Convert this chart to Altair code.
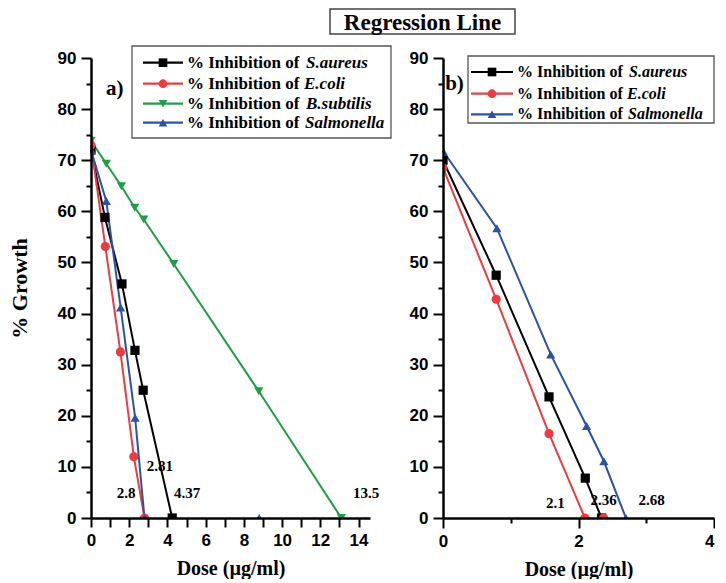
import altair as alt
import pandas as pd

SERIF = "Liberation Serif"
SANS = "Liberation Sans"

# ---------------- data: panel a ----------------
A_SERIES = ["S.aureus", "E.coli", "B.subtilis", "Salmonella"]
a_saureus_x = [0, 0.73, 1.62, 2.3, 2.73, 4.25]
a_saureus_y = [72, 58.8, 45.8, 32.8, 25, 0]
a_ecoli_x = [0, 0.75, 1.54, 2.24, 2.8]
a_ecoli_y = [73, 53.1, 32.5, 12, 0]
a_bsub_x = [0, 0.8, 1.59, 2.29, 2.76, 4.33, 8.78, 13.1]
a_bsub_y = [73.8, 69.3, 64.9, 60.7, 58.4, 49.7, 24.8, 0]
a_salm_x = [0, 0.8, 1.55, 2.31, 2.8]
a_salm_y = [72, 62, 41.2, 19.6, 0]
a_extra_series = ["Salmonella"]
a_extra_x = [8.8]
a_extra_y = [0]
a_note_text = ["2.81", "2.8", "4.37", "13.5"]
a_note_x = [3.6, 1.84, 5.03, 14.4]
a_note_y = [10.1, 4.9, 4.9, 4.9]

# ---------------- data: panel b ----------------
B_SERIES = ["S.aureus", "E.coli", "Salmonella"]
b_saureus_x = [0, 0.785, 1.565, 2.1, 2.34]
b_saureus_y = [70, 47.5, 23.7, 7.8, 0]
b_ecoli_x = [0, 0.785, 1.565, 2.095]
b_ecoli_y = [68.5, 42.8, 16.5, 0]
b_salm_x = [0, 0.795, 1.59, 2.12, 2.375, 2.7]
b_salm_y = [71.8, 56.7, 32, 18, 11.1, 0]
b_extra_series = ["E.coli"]
b_extra_x = [2.37]
b_extra_y = [0]
b_note_text = ["2.1", "2.36", "2.68"]
b_note_x = [1.66, 2.37, 3.08]
b_note_y = [2.9, 3.6, 3.6]

COLORS = {"S.aureus": "#000000", "E.coli": "#f03a3d",
          "B.subtilis": "#1f9e48", "Salmonella": "#2c52a6"}
SHAPES = {"S.aureus": "square", "E.coli": "circle",
          "B.subtilis": "triangle-down", "Salmonella": "triangle-up"}


def frame(pairs):
    rows = []
    for name, xs, ys in pairs:
        for x, y in zip(xs, ys):
            rows.append({"series": name, "x": x, "y": y})
    return pd.DataFrame(rows)


df_a = frame([("S.aureus", a_saureus_x, a_saureus_y),
              ("E.coli", a_ecoli_x, a_ecoli_y),
              ("B.subtilis", a_bsub_x, a_bsub_y),
              ("Salmonella", a_salm_x, a_salm_y)])
df_a_extra = pd.DataFrame({"series": a_extra_series, "x": a_extra_x, "y": a_extra_y})
df_b = frame([("S.aureus", b_saureus_x, b_saureus_y),
              ("E.coli", b_ecoli_x, b_ecoli_y),
              ("Salmonella", b_salm_x, b_salm_y)])
df_b_extra = pd.DataFrame({"series": b_extra_series, "x": b_extra_x, "y": b_extra_y})
notes_a = pd.DataFrame({"t": a_note_text, "x": a_note_x, "y": a_note_y})
notes_b = pd.DataFrame({"t": b_note_text, "x": b_note_x, "y": b_note_y})


def panel(df, extra, notes, series, xdom, width, x_major, x_minor, x_tick,
          tag, tag_xy, legend_rows, legend_box, legend_geom, legend_font, ytitle,
          label_align, title_box=None):
    yscale = alt.Scale(domain=[0, 90], nice=False, zero=False)
    xscale = alt.Scale(domain=xdom, nice=False, zero=False)
    cscale = alt.Scale(domain=series, range=[COLORS[s] for s in series])
    sscale = alt.Scale(domain=series, range=[SHAPES[s] for s in series])

    common = dict(grid=False, domainColor="black", tickColor="black",
                  tickWidth=2, domainWidth=2.5, zindex=1)
    y_major = alt.Axis(values=list(range(0, 91, 10)), tickSize=10, labelPadding=5,
                       labelFont=SANS, labelFontSize=17, labelFontWeight="bold",
                       labelColor="black", titleFont=SERIF, titleFontSize=22,
                       titleFontWeight="bold", titleColor="black", titlePadding=26,
                       orient="left", **common)
    y_minor = alt.Axis(values=list(range(5, 90, 10)), tickSize=5, labels=False,
                       domain=False, orient="left", grid=False, tickColor="black",
                       tickWidth=2, zindex=1)
    x_major_ax = alt.Axis(values=x_major, tickSize=x_tick, labelPadding=5,
                          labelExpr="datum.value % 2 == 0 ? datum.label : ''",
                          labelAlign=alt.ExprRef(expr=label_align),
                          labelFont=SANS, labelFontSize=17, labelFontWeight="bold",
                          labelColor="black", titleFont=SERIF, titleFontSize=20,
                          titleFontWeight="bold", titleColor="black", titlePadding=10,
                          orient="bottom", **common)

    lines = alt.Chart(df).mark_line(strokeWidth=2).encode(
        x=alt.X("x:Q", scale=xscale, axis=x_major_ax, title="Dose (µg/ml)"),
        y=alt.Y("y:Q", scale=yscale, axis=y_major, title=ytitle),
        color=alt.Color("series:N", scale=cscale, legend=None),
    )
    pts_df = pd.concat([df, extra], ignore_index=True)
    points = alt.Chart(pts_df).mark_point(filled=True, size=85, opacity=1, clip=True).encode(
        x=alt.X("x:Q", scale=xscale, axis=None),
        y=alt.Y("y:Q", scale=yscale, axis=None),
        color=alt.Color("series:N", scale=cscale, legend=None),
        shape=alt.Shape("series:N", scale=sscale, legend=None),
    )
    if x_minor:
        x_minor_ax = alt.Axis(values=x_minor, tickSize=5, labels=False, domain=False,
                              orient="bottom", grid=False, tickColor="black",
                              tickWidth=2, zindex=1)
        xm = alt.X("x:Q", scale=xscale, axis=x_minor_ax, title=None)
    else:
        xm = alt.X("x:Q", scale=xscale, axis=None)
    minor = alt.Chart(df).mark_point(opacity=0).encode(
        x=xm, y=alt.Y("y:Q", scale=yscale, axis=y_minor, title=None))

    note = alt.Chart(notes).mark_text(font=SERIF, fontWeight="bold", fontSize=15,
                                      color="black").encode(
        x=alt.X("x:Q", scale=xscale, axis=None),
        y=alt.Y("y:Q", scale=yscale, axis=None),
        text="t:N")
    tag_df = pd.DataFrame({"t": [tag], "x": [tag_xy[0]], "y": [tag_xy[1]]})
    tagm = alt.Chart(tag_df).mark_text(font=SERIF, fontWeight="bold", fontSize=21,
                                       color="black").encode(
        x=alt.X("x:Q", scale=xscale, axis=None),
        y=alt.Y("y:Q", scale=yscale, axis=None),
        text="t:N")

    one = pd.DataFrame({"k": [0]})
    layers = [lines, points, minor, note]
    bx0, bx1, by0, by1 = legend_box
    layers.append(alt.Chart(one).mark_rect(fill="white", fillOpacity=0, stroke="#555555",
                                           strokeWidth=1.3).encode(
        x=alt.value(bx0), x2=alt.value(bx1), y=alt.value(by0), y2=alt.value(by1)))
    lx0, lx1, mx, tx = legend_geom
    for s, ry, sx in legend_rows:
        c = COLORS[s]
        layers.append(alt.Chart(one).mark_rule(color=c, strokeWidth=2.2).encode(
            x=alt.value(lx0), x2=alt.value(lx1), y=alt.value(ry)))
        layers.append(alt.Chart(one).mark_point(filled=True, size=75, opacity=1, color=c,
                                                shape=SHAPES[s]).encode(
            x=alt.value(mx), y=alt.value(ry)))
        layers.append(alt.Chart(pd.DataFrame({"t": ["% Inhibition of"]})).mark_text(
            align="left", baseline="middle", font=SERIF, fontWeight="bold",
            fontSize=legend_font, color="black").encode(
            x=alt.value(tx), y=alt.value(ry), text="t:N"))
        layers.append(alt.Chart(pd.DataFrame({"t": [s]})).mark_text(
            align="left", baseline="middle", font=SERIF, fontWeight="bold",
            fontStyle="italic", fontSize=legend_font, color="black").encode(
            x=alt.value(sx), y=alt.value(ry), text="t:N"))
    layers.append(tagm)
    if title_box is not None:
        tx0, tx1, ty0, ty1 = title_box
        layers.append(alt.Chart(one).mark_rect(fill="white", stroke="#444444",
                                               strokeWidth=1.5).encode(
            x=alt.value(tx0), x2=alt.value(tx1), y=alt.value(ty0), y2=alt.value(ty1)))
        layers.append(alt.Chart(pd.DataFrame({"t": ["Regression Line"]})).mark_text(
            font=SERIF, fontWeight="bold", fontSize=23, color="black",
            baseline="middle").encode(
            x=alt.value((tx0 + tx1) / 2), y=alt.value((ty0 + ty1) / 2 + 1), text="t:N"))

    return alt.layer(*layers).resolve_axis(x="independent", y="independent").properties(
        width=width, height=460)


left = panel(df_a, df_a_extra, notes_a, A_SERIES, [0, 14.6], 279,
             list(range(0, 15)), None, 9, "a)", (1.24, 84),
             [("S.aureus", 4.7, 215), ("E.coli", 25.7, 213),
              ("B.subtilis", 45.7, 215), ("Salmonella", 64.7, 214)],
             (41, 300, -12, 80), (52, 92, 72, 96), 17, "% Growth",
             "'center'", title_box=(239, 424, -49, -24))
right = panel(df_b, df_b_extra, notes_b, B_SERIES, [0, 4], 271,
              [0, 2, 4], [1, 3], 10, "b)", (0.17, 85),
              [("S.aureus", 14, 186), ("E.coli", 35.7, 184), ("Salmonella", 56.3, 185)],
              (25, 271, -2, 65), (28, 70, 49, 74), 16, None,
              "datum.value == 4 ? 'right' : 'center'")

chart = alt.hconcat(left, right, spacing=73, bounds="flush").properties(
    padding={"left": 0, "top": 0, "right": 0, "bottom": 0}
).configure_view(strokeWidth=0)

chart.save("out.html", embed_options={"renderer": "svg", "actions": False})
